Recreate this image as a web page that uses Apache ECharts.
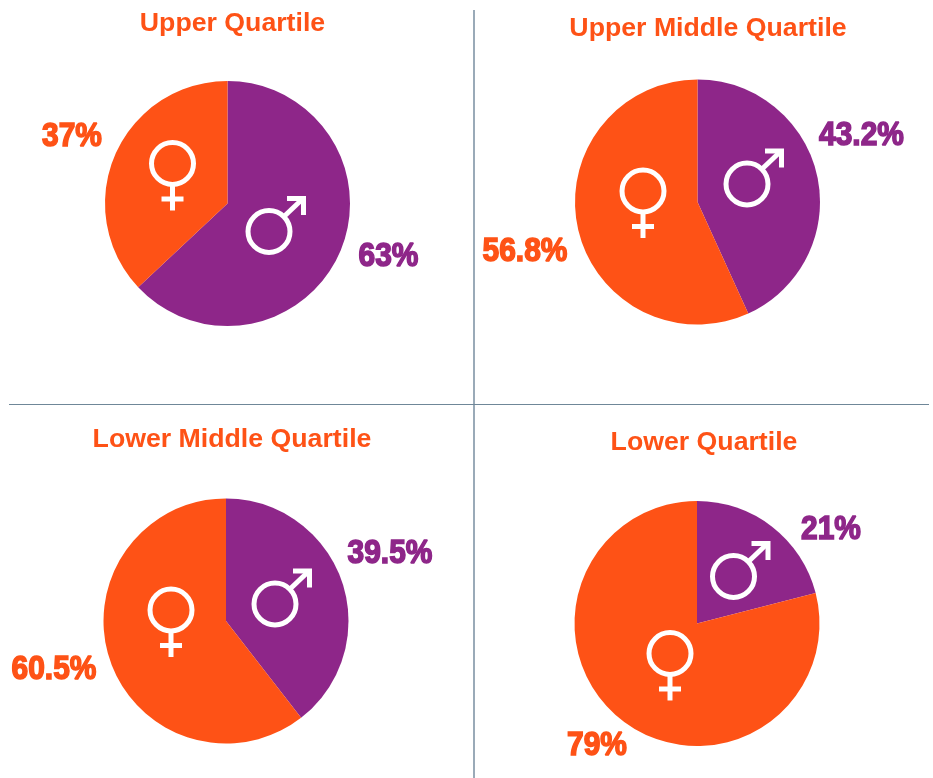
<!DOCTYPE html>
<html>
<head>
<meta charset="utf-8">
<title>Gender split by pay quartile</title>
<style>
html,body{margin:0;padding:0;background:#fff;}
#main{width:933px;height:778px;}
</style>
<script src="https://cdn.jsdelivr.net/npm/echarts@6/dist/echarts.min.js"></script>
</head>
<body>
<div id="main"></div>
<script>
// values
var quartiles = ['Upper Quartile', 'Upper Middle Quartile', 'Lower Middle Quartile', 'Lower Quartile'];
var genders = ['Male', 'Female'];
var maleShare = [63, 43.2, 39.5, 21];
var femaleShare = [37, 56.8, 60.5, 79];

var ORANGE = '#fe5216', PURPLE = '#8e2689', WHITE = '#fff';

// where each panel sits on the page
var panels = [
	{ center: [227.5, 203.5], r: 122.5, title: [232.5, 24], male: [388.5, 257], female: [72, 137], maleSym: [269, 231.5], femaleSym: [172.5, 163.5] },
	{ center: [697.5, 202], r: 122.5, title: [708, 29], male: [861.5, 136], female: [525, 252], maleSym: [747, 184], femaleSym: [643, 191] },
	{ center: [226, 621], r: 122.5, title: [232, 440], male: [390, 554], female: [54, 670], maleSym: [275, 604], femaleSym: [171, 610] },
	{ center: [697, 623.5], r: 122.5, title: [704, 443], male: [831, 530], female: [597, 746], maleSym: [733.5, 576.5], femaleSym: [670, 653.5] }
];

function femaleSymbol(pos) {
	var stroke = { stroke: WHITE, lineWidth: 5, fill: 'none' };
	return {
		type: 'group', x: pos[0], y: pos[1], silent: true,
		children: [
			{ type: 'circle', z: 20, shape: { cx: 0, cy: 0, r: 21 }, style: stroke },
			{ type: 'line', z: 20, shape: { x1: 0, y1: 21, x2: 0, y2: 47 }, style: stroke },
			{ type: 'line', z: 20, shape: { x1: -11, y1: 35.5, x2: 11, y2: 35.5 }, style: stroke }
		]
	};
}

function maleSymbol(pos) {
	var stroke = { stroke: WHITE, lineWidth: 5, fill: 'none', lineJoin: 'miter' };
	return {
		type: 'group', x: pos[0], y: pos[1], silent: true,
		children: [
			{ type: 'circle', z: 20, shape: { cx: 0, cy: 0, r: 21 }, style: stroke },
			{ type: 'line', z: 20, shape: { x1: 15, y1: -15, x2: 34, y2: -33 }, style: stroke },
			{ type: 'polyline', z: 20, shape: { points: [[18, -33], [34.5, -33], [34.5, -16.5]] }, style: stroke }
		]
	};
}

// heavy condensed look: no such font installed, so squeeze a bold one
function shareLabel(value, pos, color) {
	return {
		type: 'text', x: pos[0], y: pos[1], scaleX: 0.88, z: 20, silent: true,
		style: {
			text: value + '%', fill: color, stroke: color, lineWidth: 1.6,
			font: 'bold 34px "Liberation Sans", Arial, sans-serif',
			textAlign: 'center', textVerticalAlign: 'middle'
		}
	};
}

var titles = [], series = [];
var graphics = [
	{ type: 'line', shape: { x1: 474, y1: 10, x2: 474, y2: 778 }, style: { stroke: '#9aaab8', lineWidth: 2 }, silent: true },
	{ type: 'line', shape: { x1: 9, y1: 404.5, x2: 929, y2: 404.5 }, style: { stroke: '#6f8798', lineWidth: 1 }, silent: true }
];

for (var i = 0; i < quartiles.length; i++) {
	var p = panels[i];
	titles.push({
		text: quartiles[i], left: p.title[0], top: p.title[1], padding: 0, textAlign: 'center', textVerticalAlign: 'middle',
		textStyle: { color: ORANGE, fontFamily: '"Liberation Sans", Arial, sans-serif', fontWeight: 'bold', fontSize: 26.7 }
	});
	series.push({
		type: 'pie', name: quartiles[i], center: p.center, radius: [0, p.r], startAngle: 90, clockwise: true,
		silent: true,
		label: { show: false },
		labelLine: { show: false },
		data: [
			{ name: genders[0], value: maleShare[i], itemStyle: { color: PURPLE } },
			{ name: genders[1], value: femaleShare[i], itemStyle: { color: ORANGE } }
		]
	});
	graphics.push(maleSymbol(p.maleSym));
	graphics.push(femaleSymbol(p.femaleSym));
	graphics.push(shareLabel(maleShare[i], p.male, PURPLE));
	graphics.push(shareLabel(femaleShare[i], p.female, ORANGE));
}

var myChart = echarts.init(document.getElementById('main'), null, { renderer: 'canvas' });
myChart.setOption({
	animation: false,
	backgroundColor: '#fff',
	title: titles,
	tooltip: { show: false },
	graphic: { elements: graphics },
	series: series
});
</script>
</body>
</html>
